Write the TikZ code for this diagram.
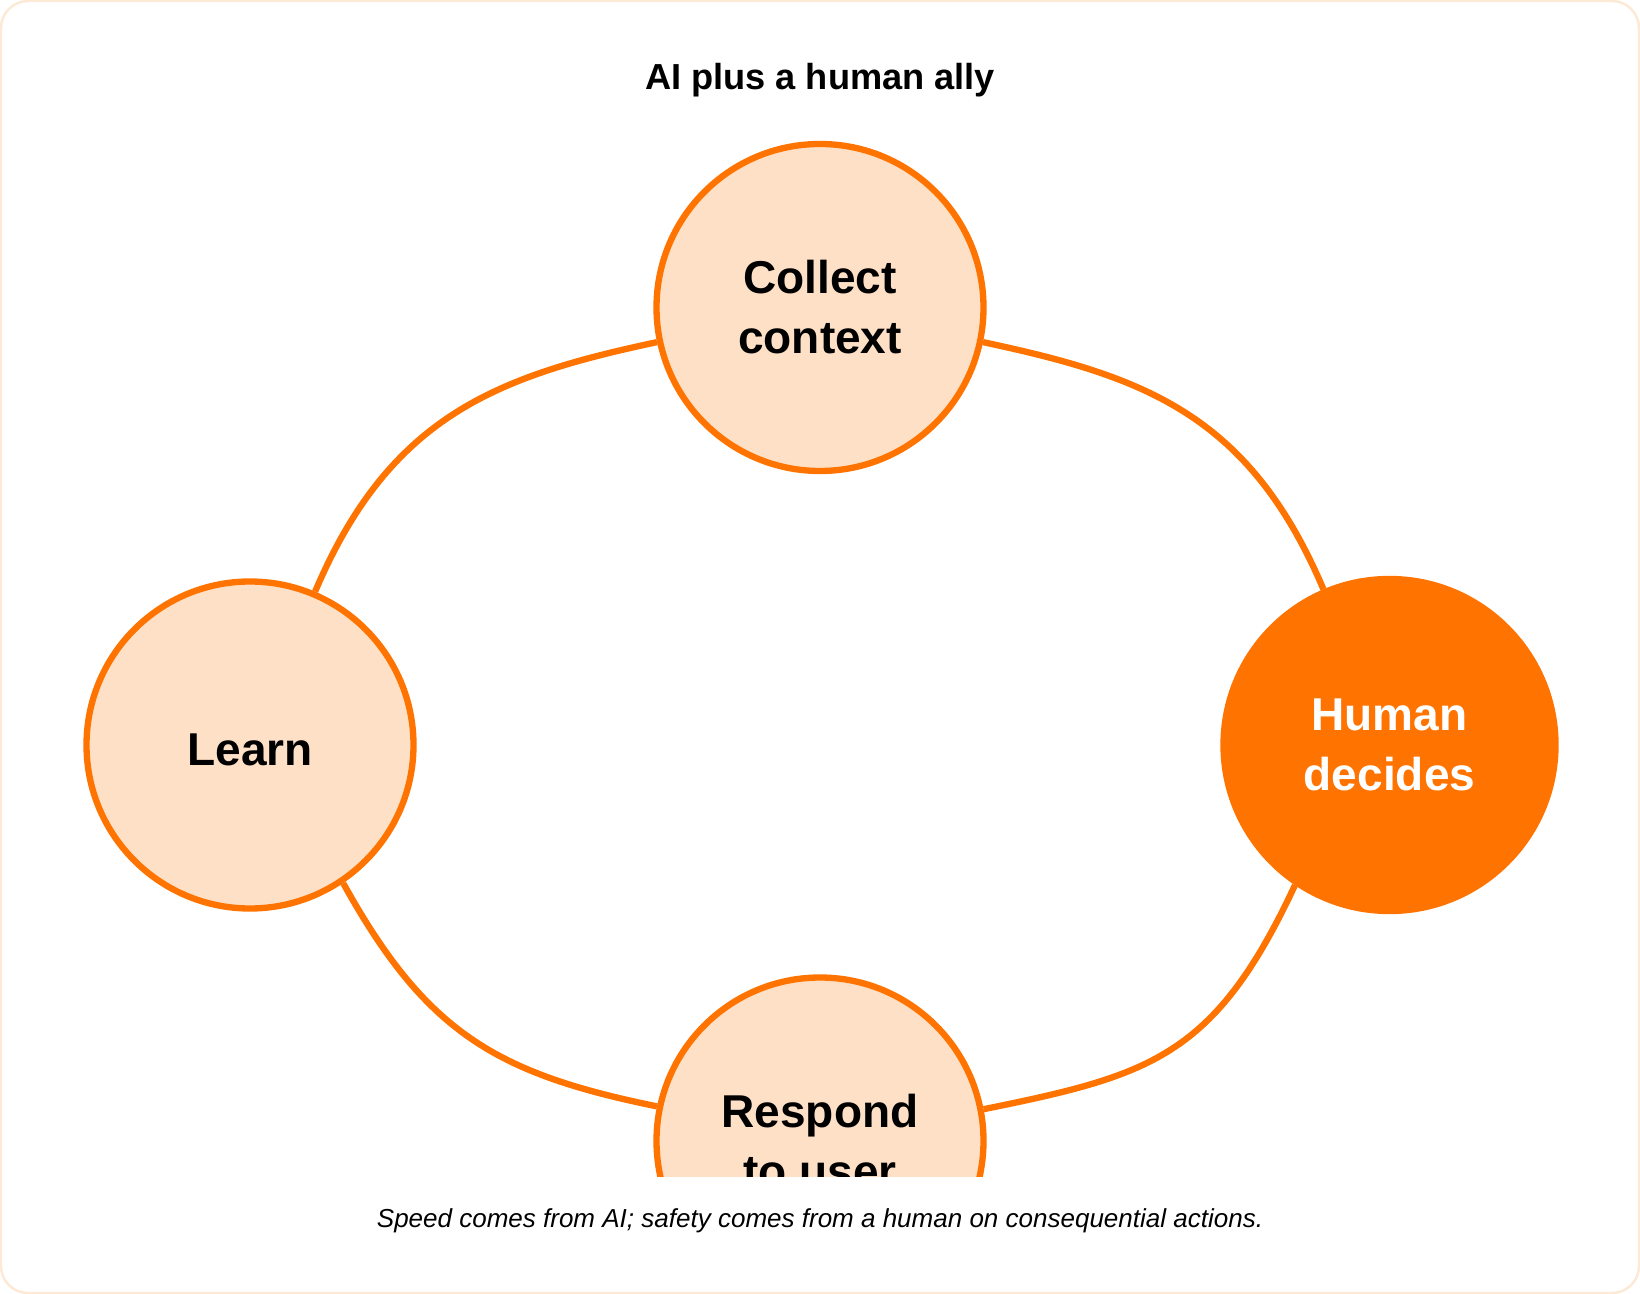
\documentclass[tikz,border=0pt]{standalone}
\usepackage{fontspec}
\setmainfont{Liberation Sans}
\usetikzlibrary{positioning,backgrounds}
\definecolor{loopOrange}{RGB}{255,115,0}
\definecolor{stagePeach}{RGB}{254,224,198}
\definecolor{frameBeige}{RGB}{252,233,214}

\begin{document}
\begin{tikzpicture}[
        stage/.style={circle, draw=loopOrange, line width=1.8pt, fill=stagePeach,
            minimum size=3.27cm, inner sep=0pt, align=center,
            font=\fontsize{13.1}{17.1}\selectfont\bfseries},
        decider/.style={stage, fill=loopOrange, text=white, minimum size=3.32cm},
        loopline/.style={draw=loopOrange, line width=1.8pt}
    ]
        \useasboundingbox (0,0) rectangle (16.4,-12.94);
        \draw[frameBeige, line width=0.7pt, rounded corners=0.27cm] (0.01,-0.01) rectangle (16.39,-12.93);
        \node[anchor=base, font=\fontsize{10.3}{12}\selectfont\bfseries] (title) at (8.2,-0.90) {AI plus a human ally};
        % Stages, cut off at the bottom
        \begin{scope}
            \clip (0,0) rectangle (16.4,-11.76);
            \node[stage] (collect) at (8.2,-3.075) {Collect\\context};
            \node[stage, text height=11.8pt] (learn) at (2.5,-7.45) {Learn};
            \node[decider] (human) at (13.895,-7.45) {Human\\decides};
            \node[stage] (respond) at (8.2,-11.41) {Respond\\to user};
        \end{scope}
        % Loop behind the circles
        \begin{scope}[on background layer]
            \draw[loopline] (collect.-12) .. controls +(-12:1.65) and +(113:1.9) .. (human.113);
            \draw[loopline] (human.236) .. controls +(245:1.9) and +(11.5:1.7) .. (respond.11.5);
            \draw[loopline] (respond.168.5) .. controls +(168.5:1.65) and +(299:1.7) .. (learn.304);
            \draw[loopline] (learn.67) .. controls +(67:1.9) and +(192:1.65) .. (collect.192);
        \end{scope}
        \node[anchor=base, font=\fontsize{7.4}{9}\selectfont\itshape] (note) at (8.2,-12.273)
            {Speed comes from AI; safety comes from a human on consequential actions.};
    \end{tikzpicture}
\end{document}
